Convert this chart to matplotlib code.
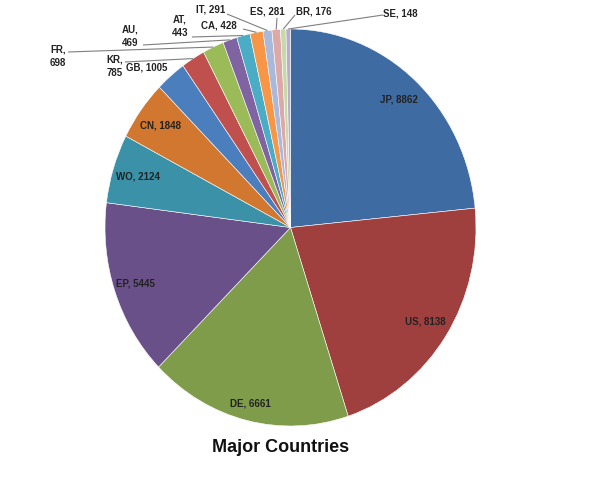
import numpy as np
import matplotlib
matplotlib.use("Agg")
import matplotlib.pyplot as plt

plt.rcParams["font.family"] = ["Liberation Sans", "DejaVu Sans"]

# data
countries = ["JP", "US", "DE", "EP", "WO", "CN", "GB", "KR", "FR", "AU",
             "AT", "CA", "IT", "ES", "BR", "SE"]
counts = [8862, 8138, 6661, 5445, 2124, 1848, 1005, 785, 698, 469,
          443, 428, 291, 281, 176, 148]
colors = ["#3F6BA3", "#A0403E", "#7E9C4A", "#6A5088", "#3B92A8", "#D1772F",
          "#4A7EBD", "#C0504D", "#9BBB59", "#8064A2", "#4BACC6", "#F79646",
          "#A9B9DC", "#DCA9A8", "#C6D9A8", "#B8ADCB"]

W, H = 600, 484
fig = plt.figure(figsize=(6, 4.84), dpi=100)
# pie is slightly taller than wide in the reference
cx, cy, rx, ry = 290.5, 227.5, 185.5, 198.5
ax = fig.add_axes([(cx - rx) / W, (H - cy - ry) / H, 2 * rx / W, 2 * ry / H])

wedges, _ = ax.pie(counts, colors=colors, startangle=90, counterclock=False,
                   radius=1, wedgeprops=dict(edgecolor="white", linewidth=0.4))
ax.set_xlim(-1, 1)
ax.set_ylim(-1, 1)
ax.set_aspect("auto")
ax.axis("off")

fnt = dict(fontsize=7, fontweight="bold", color="#222222")

# labels inside the big slices (radius fraction)
inner = {"JP": 0.87, "US": 0.87, "DE": 0.91, "EP": 0.88, "WO": 0.86, "CN": 0.87}
# outside labels: text centre in pixels from top-left
outer = {
    "GB": (147, 68),
    "KR": (115, 66),
    "FR": (58, 56),
    "AU": (130, 36),
    "AT": (180, 26),
    "CA": (219, 25),
    "IT": (211, 10),
    "ES": (267, 12),
    "BR": (314, 12),
    "SE": (400, 14),
}
line_start = {
    "KR": (125, 62), "FR": (68, 52), "AU": (143, 45), "AT": (192, 37),
    "CA": (243, 29), "IT": (227, 14), "ES": (277, 18), "BR": (295, 15),
    "SE": (383, 15),
}

for w, c, v in zip(wedges, countries, counts):
    ang = np.deg2rad((w.theta1 + w.theta2) / 2)
    if c in inner:
        r = inner[c]
        ax.text(r * np.cos(ang), r * np.sin(ang), f"{c}, {v}",
                ha="center", va="center", **fnt)
    else:
        tx, ty = outer[c]
        txt = f"{c},\n{v}" if c in ("KR", "FR", "AU", "AT") else f"{c}, {v}"
        fig.text(tx / W, 1 - ty / H, txt, ha="center", va="center",
                 linespacing=1.45, **fnt)
        if c in line_start:
            sx, sy = line_start[c]
            ex, ey = np.cos(ang), np.sin(ang)
            px = (sx - cx) / rx
            py = (cy - sy) / ry
            ax.plot([px, ex], [py, ey], color="#7F7F7F", lw=0.8,
                    clip_on=False, solid_capstyle="butt")

fig.text(281 / W, 1 - 448 / H, "Major Countries", ha="center", va="center",
         fontsize=13, fontweight="bold", color="#111111")

fig.savefig("out.png", dpi=100)
